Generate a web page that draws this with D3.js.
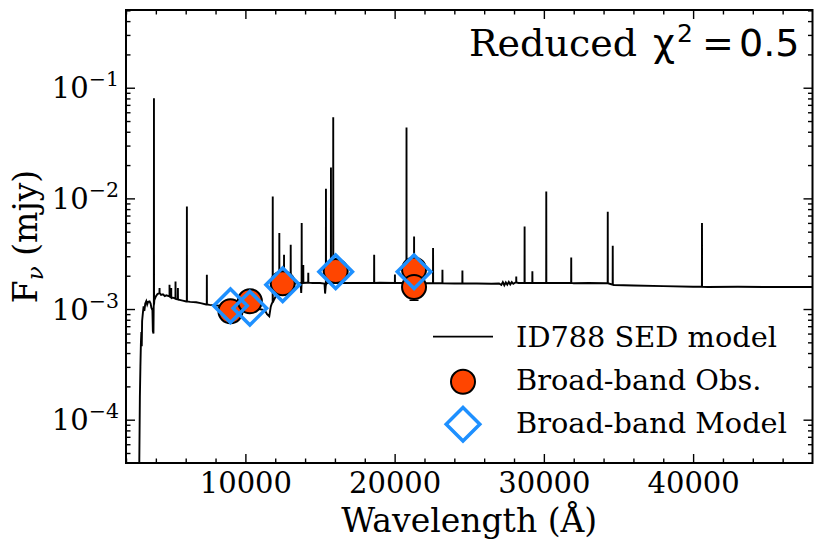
<!DOCTYPE html>
<html><head><meta charset="utf-8">
<script src="https://cdn.jsdelivr.net/npm/d3@7"></script>
<style>
body{margin:0;background:#fff}
svg{display:block}
text{font-family:"DejaVu Serif",serif;fill:#000}
</style>
</head><body>
<svg id="chart" width="830" height="554"></svg>
<script>
// ---------------- data ----------------
const xMajorTicks = [10000, 20000, 30000, 40000];
const xMinorTicks = [2000, 4000, 6000, 8000, 12000, 14000, 16000, 18000, 22000, 24000, 26000, 28000, 32000, 34000, 36000, 38000, 42000, 44000, 46000];
const yMajorTicks = [1e-4, 1e-3, 1e-2, 1e-1];
const yMajorExp = ["\u22124", "\u22123", "\u22122", "\u22121"];
const yMinorTicks = [5e-5, 6e-5, 7e-5, 8e-5, 9e-5,
  2e-4, 3e-4, 4e-4, 5e-4, 6e-4, 7e-4, 8e-4, 9e-4,
  2e-3, 3e-3, 4e-3, 5e-3, 6e-3, 7e-3, 8e-3, 9e-3,
  2e-2, 3e-2, 4e-2, 5e-2, 6e-2, 7e-2, 8e-2, 9e-2,
  2e-1, 3e-1, 4e-1, 5e-1];

// SED model continuum (wavelength in Angstrom, flux in mJy)
const contWave = [2850, 2930, 2965, 3000, 3030, 3055, 3080, 3130, 3180, 3230, 3290, 3360, 3420, 3480, 3580, 3650, 3700, 3770, 3800, 3840, 3855, 3900, 4000, 4100, 4250, 4350, 4475, 4600, 4700, 4916, 5050, 5200, 5400, 5585, 5800, 6033, 6300, 6700, 7000, 7370, 7600, 7926, 8300, 8700, 9200, 9800, 10400, 10900, 11300, 11450, 11600, 11700, 11780, 11900, 12100, 12400, 12700, 13000, 13400, 13700, 13740, 13790, 14100, 14500, 15000, 15300, 15340, 15380, 15450, 16000, 17000, 18000, 19000, 20000, 20700, 21500, 22500, 24000, 25500, 26500, 27000, 27150, 27250, 27350, 27450, 27550, 27650, 27750, 27850, 27950, 28100, 28300, 29000, 30000, 31000, 32000, 33000, 34200, 34700, 36000, 38000, 40000, 41000, 43000, 45000, 48000];
const contFlux = [1.0e-5, 1.6e-4, 3.0e-4, 5.0e-4, 6.2e-4, 4.6e-4, 7.8e-4, 9.2e-4, 1.06e-3, 9.6e-4, 1.12e-3, 1.18e-3, 1.10e-3, 1.16e-3, 1.17e-3, 1.12e-3, 1.03e-3, 9.8e-4, 6.3e-4, 6.0e-4, 1.05e-3, 1.20e-3, 1.30e-3, 1.36e-3, 1.40e-3, 1.34e-3, 1.36e-3, 1.31e-3, 1.33e-3, 1.30e-3, 1.27e-3, 1.26e-3, 1.23e-3, 1.21e-3, 1.19e-3, 1.17e-3, 1.16e-3, 1.15e-3, 1.13e-3, 1.10e-3, 1.09e-3, 1.08e-3, 1.07e-3, 1.05e-3, 1.04e-3, 1.02e-3, 1.0e-3, 1.0e-3, 9.8e-4, 9.0e-4, 8.6e-4, 1.05e-3, 1.13e-3, 1.20e-3, 1.35e-3, 1.50e-3, 1.62e-3, 1.68e-3, 1.71e-3, 1.72e-3, 1.40e-3, 1.72e-3, 1.73e-3, 1.72e-3, 1.72e-3, 1.70e-3, 1.38e-3, 1.60e-3, 1.72e-3, 1.72e-3, 1.72e-3, 1.72e-3, 1.73e-3, 1.72e-3, 1.72e-3, 1.71e-3, 1.71e-3, 1.70e-3, 1.70e-3, 1.69e-3, 1.70e-3, 1.65e-3, 1.75e-3, 1.64e-3, 1.74e-3, 1.66e-3, 1.76e-3, 1.67e-3, 1.75e-3, 1.69e-3, 1.74e-3, 1.72e-3, 1.72e-3, 1.72e-3, 1.72e-3, 1.71e-3, 1.72e-3, 1.71e-3, 1.65e-3, 1.63e-3, 1.61e-3, 1.59e-3, 1.58e-3, 1.59e-3, 1.58e-3, 1.58e-3];

// emission lines of the SED model: observed wavelength, peak flux, continuum under the line
const lineWave = [3873, 4248, 4916, 5030, 5318, 5478, 6080, 7418, 11833, 12274, 12589, 13037, 13773, 13880, 14214, 15398, 15733, 15886, 18629, 20020, 20796, 21304, 22575, 23204, 24542, 28150, 28709, 29230, 30161, 31833, 34281, 34615, 40595];
const linePeak = [0.0805, 1.55e-3, 1.66e-3, 1.55e-3, 1.77e-3, 1.55e-3, 0.00845, 0.00204, 0.0104, 0.00487, 0.0031, 0.0038, 0.00598, 0.0025, 0.00213, 0.0122, 0.019, 0.0542, 0.0031, 2.05e-3, 0.0437, 0.00453, 0.00356, 0.00226, 0.00223, 1.97e-3, 0.00557, 2.19e-3, 0.01153, 0.00292, 0.00757, 0.00373, 0.00598];
const lineBase = [1.1e-3, 1.40e-3, 1.30e-3, 1.27e-3, 1.24e-3, 1.22e-3, 1.17e-3, 1.10e-3, 1.15e-3, 1.38e-3, 1.55e-3, 1.68e-3, 1.72e-3, 1.72e-3, 1.73e-3, 1.65e-3, 1.72e-3, 1.72e-3, 1.72e-3, 1.72e-3, 1.72e-3, 1.71e-3, 1.71e-3, 1.71e-3, 1.70e-3, 1.74e-3, 1.72e-3, 1.72e-3, 1.72e-3, 1.72e-3, 1.71e-3, 1.66e-3, 1.59e-3];

// broad-band photometry
const obsWave = [9000, 10300, 12500, 16050, 21300, 21300];
const obsFlux = [9.55e-4, 1.176e-3, 1.71e-3, 2.205e-3, 2.28e-3, 1.58e-3];
const obsErr  = [5e-5, 6e-5, 1e-4, 1.2e-4, 1e-4, 3.8e-4];
const modelWave = [9000, 10300, 12500, 16050, 21300];
const modelFlux = [1.07e-3, 1.017e-3, 1.66e-3, 2.17e-3, 2.17e-3];

const legendLabels = ["ID788 SED model", "Broad-band Obs.", "Broad-band Model"];

// ---------------- layout ----------------
const L = 126, R = 812.5, T = 10, B = 463;
const svg = d3.select("#chart");
const x = d3.scaleLinear().domain([2000, 48000]).range([L, R]);
const y = d3.scaleLog().domain([4.06e-5, 0.504]).range([B, T]);

svg.append("defs").append("clipPath").attr("id", "clip")
  .append("rect").attr("x", L).attr("y", T).attr("width", R - L).attr("height", B - T);

// build spectrum
const spec = contWave.map((w, i) => [w, contFlux[i]]);
lineWave.forEach((w, i) => {
  spec.push([w - 6, lineBase[i]], [w, linePeak[i]], [w + 6, lineBase[i]]);
});
spec.sort((a, b) => a[0] - b[0]);

const plot = svg.append("g").attr("clip-path", "url(#clip)");
plot.append("path")
  .attr("d", d3.line().x(d => x(d[0])).y(d => y(d[1]))(spec))
  .attr("fill", "none").attr("stroke", "#000").attr("stroke-width", 1.9)
  .attr("stroke-linejoin", "miter");

// error bars
const eb = plot.append("g");
obsWave.forEach((w, i) => {
  const y0 = y(obsFlux[i] - obsErr[i]), y1 = y(obsFlux[i] + obsErr[i]), xx = x(w);
  eb.append("line").attr("x1", xx).attr("x2", xx).attr("y1", y0).attr("y2", y1)
    .attr("stroke", "#000").attr("stroke-width", 1.5);
  [y0, y1].forEach(yy => eb.append("line").attr("x1", xx - 4.5).attr("x2", xx + 4.5)
    .attr("y1", yy).attr("y2", yy).attr("stroke", "#000").attr("stroke-width", 1.5));
});

// observed circles
plot.append("g").selectAll("circle").data(obsWave).join("circle")
  .attr("cx", d => x(d)).attr("cy", (d, i) => y(obsFlux[i])).attr("r", 12)
  .attr("fill", "#FF4500").attr("stroke", "#000").attr("stroke-width", 2);

// model diamonds
const s = 16.8;
const diamond = `M0,${-s}L${s},0L0,${s}L${-s},0Z`;
plot.append("g").selectAll("path").data(modelWave).join("path")
  .attr("d", diamond)
  .attr("transform", (d, i) => `translate(${x(d)},${y(modelFlux[i])})`)
  .attr("fill", "none").attr("stroke", "#1E90FF").attr("stroke-width", 3.5);

// ---------------- axes ----------------
const tickStyle = g => {
  g.select(".domain").remove();
  g.selectAll(".tick line").attr("stroke", "#000").attr("stroke-width", 1.4);
  g.selectAll("text").style("font-family", "DejaVu Serif").style("font-size", "29px").attr("fill", "#000");
};
svg.append("g").attr("transform", `translate(0,${B})`)
  .call(d3.axisBottom(x).tickValues(xMajorTicks).tickSize(-9).tickPadding(9).tickFormat(d3.format("d")))
  .call(tickStyle);
svg.append("g").attr("transform", `translate(0,${B})`)
  .call(d3.axisBottom(x).tickValues(xMinorTicks).tickSize(-4.5).tickFormat(""))
  .call(tickStyle);
svg.append("g").attr("transform", `translate(0,${T})`)
  .call(d3.axisTop(x).tickValues(xMajorTicks).tickSize(-9).tickFormat(""))
  .call(tickStyle);
svg.append("g").attr("transform", `translate(0,${T})`)
  .call(d3.axisTop(x).tickValues(xMinorTicks).tickSize(-4.5).tickFormat(""))
  .call(tickStyle);
svg.append("g").attr("transform", `translate(${L},0)`)
  .call(d3.axisLeft(y).tickValues(yMajorTicks).tickSize(-9).tickFormat(""))
  .call(tickStyle);
svg.append("g").attr("transform", `translate(${L},0)`)
  .call(d3.axisLeft(y).tickValues(yMinorTicks).tickSize(-4.5).tickFormat(""))
  .call(tickStyle);
svg.append("g").attr("transform", `translate(${R},0)`)
  .call(d3.axisRight(y).tickValues(yMajorTicks).tickSize(-9).tickFormat(""))
  .call(tickStyle);
svg.append("g").attr("transform", `translate(${R},0)`)
  .call(d3.axisRight(y).tickValues(yMinorTicks).tickSize(-4.5).tickFormat(""))
  .call(tickStyle);

// y tick labels 10^n
yMajorTicks.forEach((v, i) => {
  const t = svg.append("text").attr("x", 119).attr("y", y(v) + 10.5)
    .attr("text-anchor", "end").style("font-size", "29px");
  t.append("tspan").text("10");
  t.append("tspan").attr("dy", -12).style("font-size", "20.5px").text(yMajorExp[i]);
});

// frame
svg.append("rect").attr("x", L).attr("y", T).attr("width", R - L).attr("height", B - T)
  .attr("fill", "none").attr("stroke", "#000").attr("stroke-width", 2);

// axis labels
svg.append("text").attr("x", (L + R) / 2).attr("y", 532).attr("text-anchor", "middle")
  .style("font-size", "33px").text("Wavelength (\u00C5)");
const yl = svg.append("text").attr("transform", `translate(37,${(T + B) / 2}) rotate(-90)`)
  .attr("text-anchor", "middle").style("font-size", "33px");
yl.append("tspan").text("F");
yl.append("tspan").attr("dy", 6).style("font-size", "23px").style("font-style", "italic").text("\u03BD");
yl.append("tspan").attr("dy", -6).text(" (mjy)");

// annotation
const ann = svg.append("text").attr("y", 56).style("font-size", "38px");
ann.append("tspan").attr("x", 469).text("Reduced");
ann.append("tspan").attr("x", 653).style("font-family", "DejaVu Sans").text("\u03C7");
ann.append("tspan").attr("x", 677).attr("dy", -14).style("font-family", "DejaVu Sans").style("font-size", "25px").text("2");
ann.append("tspan").attr("x", 702).attr("dy", 14).style("font-family", "DejaVu Sans").text("=");
ann.append("tspan").attr("x", 739).style("font-family", "DejaVu Sans").text("0.5");

// legend
const lg = svg.append("g");
lg.append("line").attr("x1", 433).attr("x2", 493).attr("y1", 336.7).attr("y2", 336.7)
  .attr("stroke", "#000").attr("stroke-width", 1.7);
lg.append("circle").attr("cx", 463).attr("cy", 381.7).attr("r", 12)
  .attr("fill", "#FF4500").attr("stroke", "#000").attr("stroke-width", 2);
lg.append("path").attr("d", diamond).attr("transform", "translate(463,424.3)")
  .attr("fill", "none").attr("stroke", "#1E90FF").attr("stroke-width", 3.5);
const legY = [347.3, 390, 432.7];
legendLabels.forEach((t, i) => {
  lg.append("text").attr("x", 516).attr("y", legY[i]).style("font-size", "28.8px").text(t);
});
</script>
</body></html>
